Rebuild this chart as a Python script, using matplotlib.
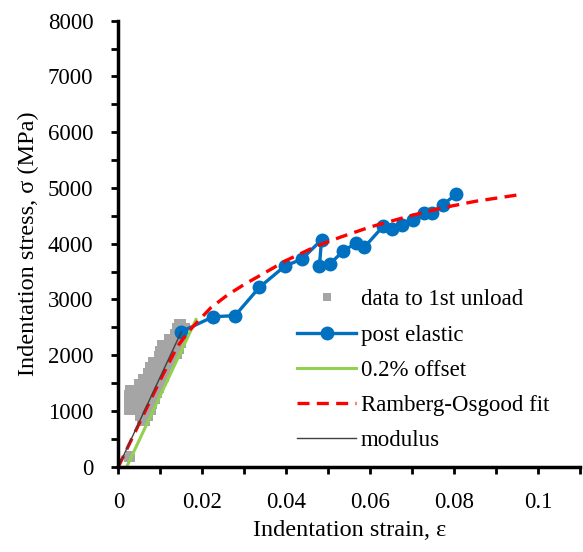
import matplotlib
matplotlib.use("Agg")
import matplotlib.pyplot as plt
from matplotlib.ticker import MultipleLocator

plt.rcParams['font.family'] = ['Liberation Serif', 'DejaVu Serif']

# data to 1st unload (gray squares), rows of strain values at each stress level
gray_rows = {
    150: [0.0024, 0.0030],
    210: [0.0027],
    800: [0.0055, 0.0067],
    900: [0.0050, 0.0062, 0.0072],
    1000: [0.0023, 0.0035, 0.0047, 0.0059, 0.0071, 0.0080],
    1100: [0.0023, 0.0035, 0.0047, 0.0059, 0.0071, 0.0083],
    1200: [0.0023, 0.0035, 0.0047, 0.0059, 0.0071, 0.0083, 0.0090],
    1300: [0.0023, 0.0035, 0.0047, 0.0059, 0.0071, 0.0083, 0.0095],
    1400: [0.0025, 0.0037, 0.0049, 0.0061, 0.0073, 0.0085, 0.0099],
    1500: [0.0048, 0.0060, 0.0072, 0.0084, 0.0096, 0.0105],
    1600: [0.0057, 0.0069, 0.0081, 0.0093, 0.0105, 0.0112],
    1700: [0.0068, 0.0080, 0.0092, 0.0104, 0.0116],
    1800: [0.0074, 0.0086, 0.0098, 0.0110, 0.0122],
    1900: [0.0080, 0.0092, 0.0104, 0.0116, 0.0128],
    2000: [0.0094, 0.0106, 0.0118, 0.0130, 0.0142],
    2100: [0.0097, 0.0109, 0.0121, 0.0133, 0.0148],
    2200: [0.0102, 0.0114, 0.0126, 0.0138, 0.0152],
    2300: [0.0118, 0.0130, 0.0142, 0.0155],
    2400: [0.0132, 0.0144, 0.0156],
    2500: [0.0138, 0.0150, 0.0160],
    2580: [0.0142, 0.0152],
}
gray_x = []
gray_y = []
for s, row in gray_rows.items():
    for e in row:
        gray_x.append(e)
        gray_y.append(s)

# post elastic
post_x = [0.0149, 0.0226, 0.0278, 0.0336, 0.0397, 0.0437, 0.0484, 0.0479, 0.0504,
          0.0536, 0.0567, 0.0586, 0.0631, 0.0652, 0.0675, 0.0701, 0.0727, 0.0747,
          0.0773, 0.0804]
post_y = [2420, 2690, 2710, 3218, 3600, 3723, 4068, 3600, 3638,
          3870, 4015, 3937, 4315, 4268, 4328, 4425, 4548, 4555,
          4697, 4885]

# 0.2% offset line
off_x = [0.002, 0.0185]
off_y = [0, 2640]

# Ramberg-Osgood fit
ro_x = [0, 0.005, 0.010, 0.014, 0.017, 0.0195, 0.022, 0.026, 0.030, 0.034, 0.040,
        0.047, 0.053, 0.060, 0.070, 0.077, 0.085, 0.0956]
ro_y = [0, 780, 1560, 2150, 2450, 2650, 2850, 3080, 3270, 3440, 3700,
        3950, 4120, 4300, 4510, 4640, 4760, 4880]

# modulus line
mod_x = [0, 0.0150]
mod_y = [0, 2420]

fig = plt.figure(figsize=(5.83, 5.52), dpi=100)
ax = fig.add_axes([0.203, 0.1545, 0.792, 0.808])

ax.plot(gray_x, gray_y, 's', color='#A5A5A5', markersize=6, markeredgewidth=0,
        label='data to 1st unload')
ax.plot(post_x, post_y, '-o', color='#0070C0', linewidth=2.4, markersize=9,
        label='post elastic')
ax.plot(off_x, off_y, '-', color='#92D050', linewidth=2.2, label='0.2% offset')
ax.plot(ro_x, ro_y, '--', color='#FF0000', linewidth=2.4, dashes=(3.6, 2.2),
        label='Ramberg-Osgood fit')
ax.plot(mod_x, mod_y, '-', color='#404040', linewidth=1, label='modulus')

ax.set_xlim(0, 0.11)
ax.set_ylim(0, 8000)
ax.xaxis.set_minor_locator(MultipleLocator(0.01))
ax.yaxis.set_major_locator(MultipleLocator(1000))
ax.yaxis.set_minor_locator(MultipleLocator(500))
ax.set_xticks([0, 0.02, 0.04, 0.06, 0.08, 0.1])
ax.set_xticklabels(['0', '0.02', '0.04', '0.06', '0.08', '0.1'])

for side in ['top', 'right']:
    ax.spines[side].set_visible(False)
for side in ['left', 'bottom']:
    ax.spines[side].set_linewidth(2.5)
ax.tick_params(which='both', direction='out', width=2, length=5, labelsize=16.5, pad=13)

ax.set_xlabel('Indentation strain, ε', fontsize=17.5, labelpad=5)
ax.set_ylabel('Indentation stress, σ (MPa)', fontsize=17.5, labelpad=6)

ax.legend(loc='upper left', bbox_to_anchor=(0.509, 0.476), bbox_transform=fig.transFigure,
          frameon=False, fontsize=16.5, handlelength=2.6, handletextpad=0.2,
          labelspacing=0.62, borderpad=0, borderaxespad=0)

fig.savefig('out.png', dpi=100)
